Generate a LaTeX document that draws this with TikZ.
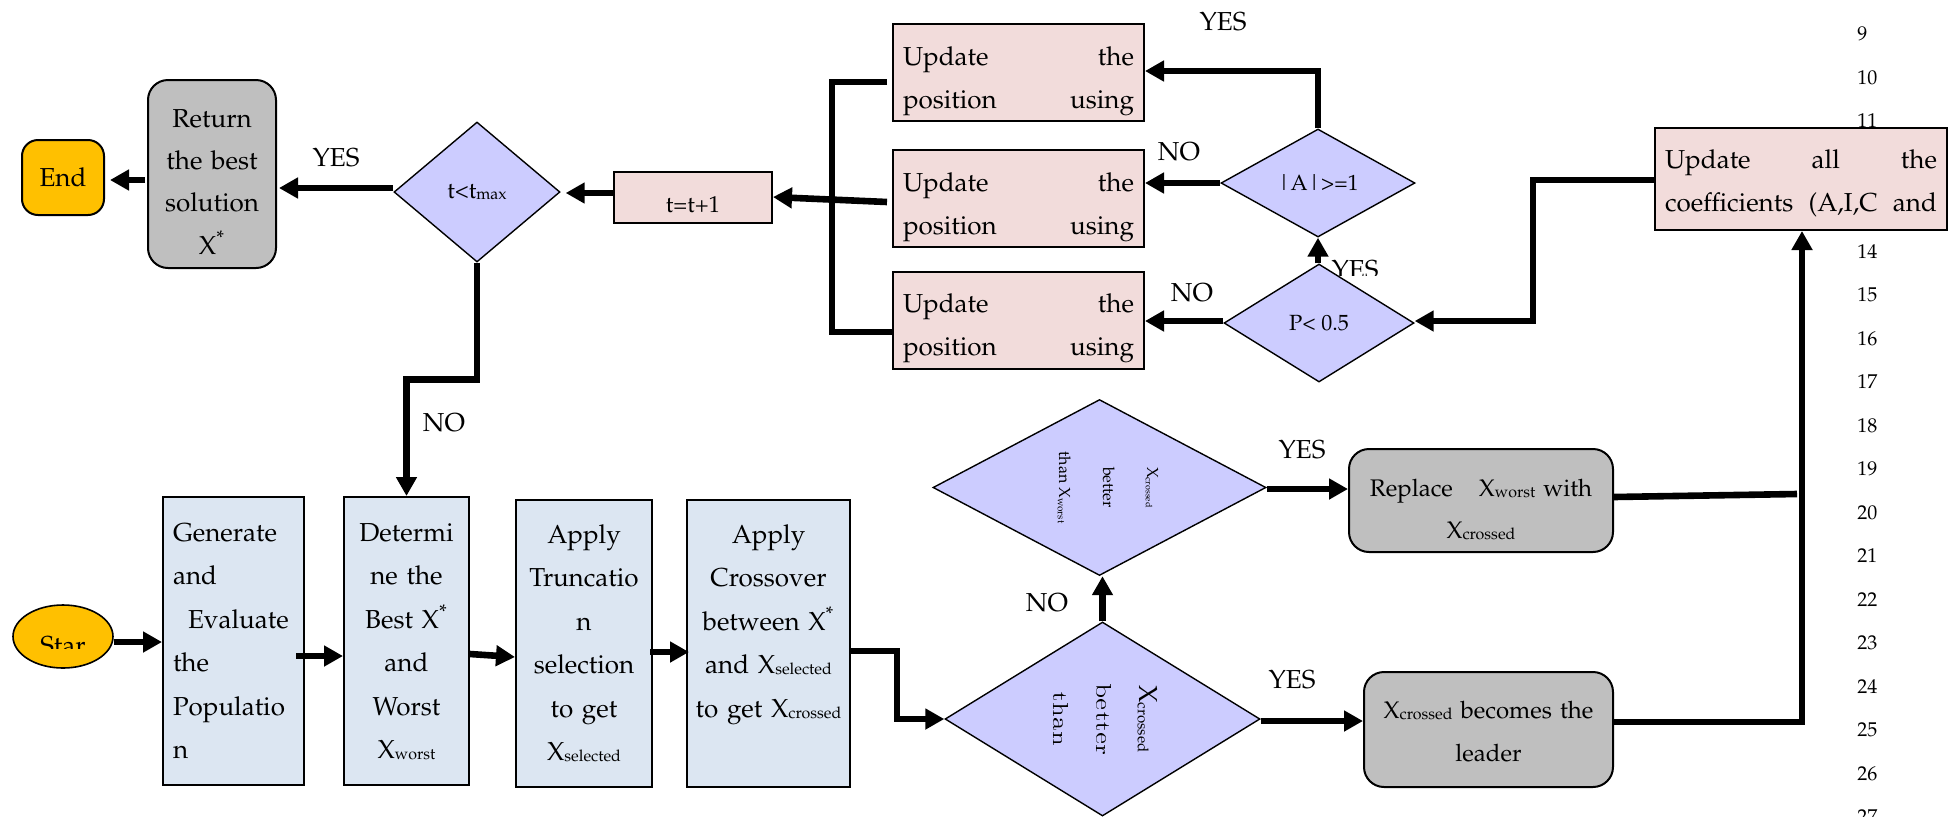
\documentclass[tikz,border=0pt]{standalone}
\usepackage[T1]{fontenc}
\usepackage{mathpazo}
\usetikzlibrary{shapes.geometric,arrows.meta}
\definecolor{pinkfill}{HTML}{F2DCDB}
\definecolor{bluefill}{HTML}{DCE6F2}
\definecolor{grayfill}{HTML}{BFBFBF}
\definecolor{yellowfill}{HTML}{FFC000}
\definecolor{diafill}{HTML}{CCCCFF}
\newcommand\lowsub[2][8]{\raisebox{-0.6pt}{\fontsize{#1}{#1}\selectfont #2}}
\newcommand\Xs[2][8]{X\lowsub[#1]{#2}}
\newcommand\Xstar{X\textsuperscript{*}}
\newcommand\widelm[1]{\scalebox{1.25}[1]{\fontfamily{lmr}\fontsize{10.5}{21.5}\selectfont #1}}
\tikzset{
  wh/.style 2 args={minimum width=#1*0.5pt, minimum height=#2*0.5pt},
  txt/.style={font=\fontsize{13}{21.75}\selectfont, inner sep=0pt},
  boxline/.style={draw=black, line width=1pt},
  bluebox/.style={txt, boxline, fill=bluefill, rectangle, inner xsep=5pt},
  pinkbox/.style={txt, boxline, fill=pinkfill, rectangle, inner xsep=5pt},
  graybox/.style={txt, boxline, fill=grayfill, rounded corners=10pt, align=center},
  decision/.style={diamond, draw=black, line width=0.7pt, fill=diafill, inner sep=0pt},
  lab/.style={font=\fontsize{13}{15}\selectfont, inner sep=0pt},
  lnum/.style={font=\fontsize{10}{12}\selectfont, inner sep=0pt, anchor=west},
  conn/.style={line width=3.3pt},
  arr/.style={conn, -{Triangle[length=9.5pt,width=10pt]}},
}
\begin{document}
\begin{tikzpicture}[x=0.5pt,y=-0.5pt]
\useasboundingbox (0,0) rectangle (1950,816);
% line numbers of the page
\foreach \n [count=\i from 0] in {9,...,27}
  \node[lnum] (ln\n) at (1857,{34+43.5*\i}) {\n};
% clipped label behind the P<0.5 decision
\begin{scope}
  \clip (1320,250) rectangle (1400,275);
  \node[lab, anchor=base] (yes3) at (1355,278) {YES};
\end{scope}
% start
\node[ellipse, draw=black, line width=0.8pt, fill=yellowfill, wh={100}{63}, inner sep=0pt] (star) at (63,636.5) {};
\begin{scope}
  \clip (10,600) rectangle (120,648);
  \node[lab, anchor=base] (startxt) at (63,654) {Star};
\end{scope}
% lower row of process boxes
\node[bluebox, wh={141}{288}, text width=60.5pt, align=left, text height=0pt, text depth=100pt] (gen) at (233.5,641)
  {Generate\\and\\\hspace*{7.5pt}Evaluate\\the\\Populatio\\n};
\node[bluebox, wh={125}{288}, text width=52.5pt, align=center, text height=0pt, text depth=100pt] (det) at (406.5,641)
  {Determi\\ne the\\Best \Xstar\\and\\Worst\\\Xs{worst}};
\node[bluebox, wh={136}{287}, text width=58pt, align=center, text height=0pt, text depth=100.5pt] (trunc) at (584,643.5)
  {Apply\\Truncatio\\n\\selection\\to get\\\Xs{selected}};
\node[bluebox, inner xsep=3pt, wh={163}{287}, text width=75.5pt, align=center, text height=0pt, text depth=100.5pt] (cross) at (768.5,643.5)
  {Apply\\Crossover\\between \Xstar\\and \Xs{selected}\\to get \Xs{crossed}};
% decisions of the lower part
\node[decision, shape aspect=1.62, wh={315}{194}] (d1) at (1102.5,719)
  {\hspace*{2.1pt}\rotatebox{-90}{\fontsize{13}{21.5}\selectfont\begin{tabular}{@{}c@{}}\Xs[7.5]{crossed}\\\widelm{better}\\\widelm{than}\end{tabular}}};
\node[decision, shape aspect=1.9, wh={333}{176}] (d2) at (1099.5,487.5)
  {\hspace*{12.3pt}\rotatebox{-90}{\fontsize{8}{22}\selectfont\begin{tabular}{@{}c@{}}\Xs[4.5]{crossed}\\better\\than \Xs[5]{worst}\end{tabular}}};
\node[graybox, wh={264}{103}, text width=120pt, font=\fontsize{12}{21}\selectfont, text height=0pt, text depth=4.5pt] (repl) at (1481,500.5)
  {Replace\hspace{13pt}\Xs{worst} with\\\Xs{crossed}};
\node[graybox, wh={249}{115}, text width=115pt, font=\fontsize{12}{21.5}\selectfont, text height=0pt, text depth=11.5pt] (lead) at (1488.5,729.5)
  {\Xs{crossed} becomes the\\leader};
% upper part
\node[pinkbox, wh={292}{102}, text width=136pt, align=left, text height=0pt, text depth=11pt] (upd) at (1801,179)
  {Update\hfill all\hfill the\\coefficients\hfill(A,I,C\hfill and};
\node[decision, wh={190}{118}, font=\fontsize{11}{13}\selectfont] (dP) at (1319,323) {P< 0.5};
\node[decision, wh={194}{108}, font=\fontsize{11}{13}\selectfont] (dA) at (1318,183) {|A|>=1};
\node[pinkbox, wh={251}{97}, text width=115.5pt, align=left, text height=0pt, text depth=7.5pt] (ub1) at (1018.5,72.5)
  {Update\hfill the\\position\hfill using};
\node[pinkbox, wh={251}{97}, text width=115.5pt, align=left, text height=0pt, text depth=7.5pt] (ub2) at (1018.5,198.5)
  {Update\hfill the\\position\hfill using};
\node[pinkbox, wh={251}{97}, text width=115.5pt, align=left, text height=0pt, text depth=8pt] (ub3) at (1018.5,320)
  {Update\hfill the\\position\hfill using};
\node[pinkbox, wh={158}{51}, font=\fontsize{11.5}{13}\selectfont, text height=14.5pt, text depth=0pt] (tt) at (693,197.5) {t=t+1};
\node[decision, wh={166}{140}, font=\fontsize{11.5}{13}\selectfont] (dT) at (477,192) {t<t\lowsub{max}};
\node[graybox, wh={128}{188}, text width=54pt, font=\fontsize{13}{21.2}\selectfont, text height=0pt, text depth=47pt] (ret) at (212,174)
  {Return\\the best\\solution\\\Xstar};
\node[txt, draw=black, line width=1pt, fill=yellowfill, rounded corners=8pt, wh={82}{75}] (endn) at (63,177.5) {End};
% connectors
\draw[arr] ([shift={(0,5.5)}]star.east) -- ([shift={(0,1)}]gen.west);
\draw[arr] ([shift={(-9,15)}]gen.east) -- ([shift={(0,15)}]det.west);
\draw[arr] ([shift={(0,13)}]det.east) -- ([shift={(0,13.5)}]trunc.west);
\draw[arr] ([shift={(-3,8.5)}]trunc.east) -- ([shift={(3,8.5)}]cross.west);
\draw[arr] ([shift={(0,7.5)}]cross.east) -- ++(46,0) |- (d1.west);
\draw[arr] (d1.north) -- (d1.north |- d2.south);
\draw[arr] ([shift={(0,2)}]d1.east) -- ([shift={(0,-8.5)}]lead.west);
\draw[arr] ([shift={(0,1.5)}]d2.east) -- ([shift={(0,-11.5)}]repl.west);
\coordinate (rp) at (1797,494);
\draw[conn] ([shift={(0,-3.5)}]repl.east) -- (rp);
\draw[arr] ([shift={(0,-7.5)}]lead.east) -| ([shift={(1,0)}]upd.south);
\draw[arr] ([shift={(0,1)}]upd.west) -- ++(-121,0) |- ([shift={(0,-2)}]dP.east);
\draw[arr] (dA.south |- dP.north) -- (dA.south);
\draw[arr] ([shift={(0,-2)}]dP.west) -- ([shift={(0,1)}]ub3.east);
\draw[arr] (dA.west) -- (dA.west -| ub2.east);
\draw[arr] (dA.north) |- ([shift={(0,-1.5)}]ub1.east);
\draw[conn] ([shift={(-5,9.5)}]ub1.west) -- ++(-55,0) |- ([shift={(0,12)}]ub3.west);
\draw[arr] ([shift={(-5,3.5)}]ub2.west) -- ([shift={(0,-0.5)}]tt.east);
\draw[arr] ([shift={(0,-4.5)}]tt.west) -- ([shift={(5,1)}]dT.east);
\draw[arr] ([shift={(0,-4)}]dT.west) -- ([shift={(2,14)}]ret.east);
\draw[arr] ([shift={(-2,6)}]ret.west) -- ([shift={(5,2.5)}]endn.east);
\draw[arr] (dT.south) -- ++(0,117) -| (det.north);
% branch labels
\node[lab] (yes1) at (336,158) {YES};
\node[lab] (no1) at (444,423) {NO};
\node[lab] (yes2) at (1223,22) {YES};
\node[lab] (no2) at (1179,152) {NO};
\node[lab] (no3) at (1192,293) {NO};
\node[lab] (yes4) at (1302,450) {YES};
\node[lab] (no4) at (1047,603) {NO};
\node[lab] (yes5) at (1292,680) {YES};
\end{tikzpicture}
\end{document}
